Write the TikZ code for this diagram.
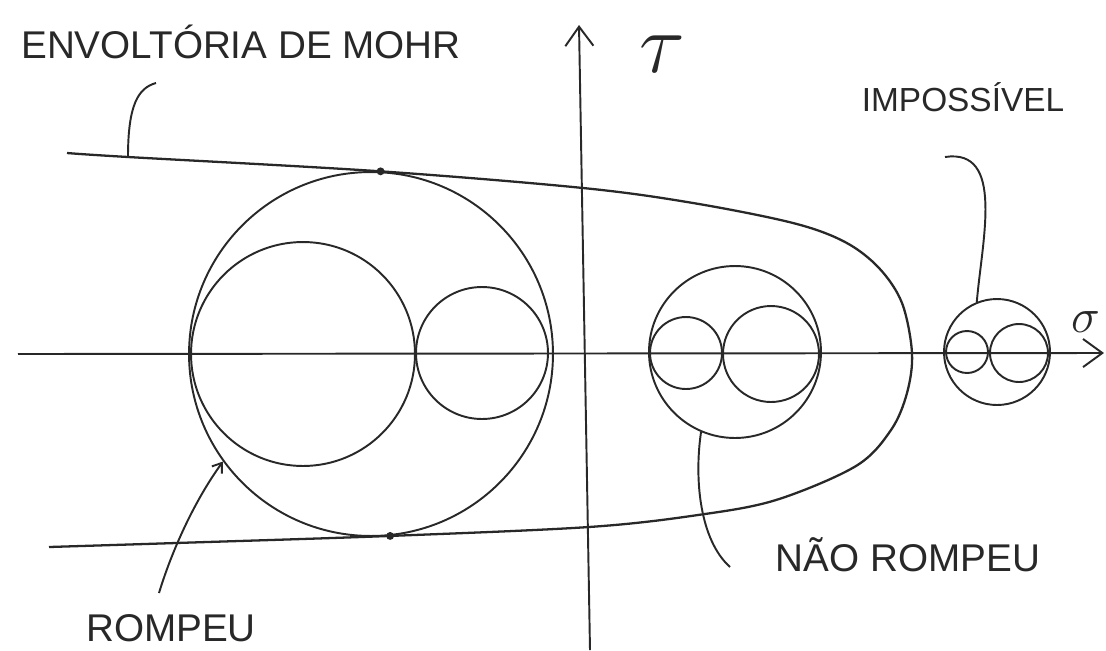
\documentclass[tikz,border=0pt]{standalone}
\usepackage{fontspec}
\setmainfont{Liberation Sans}
\usepackage{graphicx}
\usepackage{tikz}
\usepackage{xcolor}
\usetikzlibrary{arrows.meta, positioning, calc}
\definecolor{pencil}{RGB}{40,40,40}

\begin{document}
\begin{tikzpicture}[x=0.02cm,y=-0.02cm,
  % circulos de Mohr e envoltoria
  ring/.style={circle,draw=pencil,line width=1.1pt,inner sep=0pt},
  envline/.style={draw=pencil,line width=1.3pt},
  axis/.style={draw=pencil,line width=1.1pt,-{Straight Barb[length=11pt,width=16pt]}},
  lbl/.style={font=\fontsize{22}{24}\selectfont,text=pencil,inner sep=0pt},
  lead/.style={draw=pencil,line width=1.1pt},
  spot/.style={circle,fill=pencil,inner sep=0pt,minimum size=4.5pt}]

  \useasboundingbox (0,0) rectangle (1106,650);

  % eixos
  \coordinate (sl) at (18,354);
  \coordinate (sr) at (1104,353);
  \coordinate (tb) at (590,650);
  \coordinate (tt) at (579,25);
  \draw[axis](sl)--(sr);
  \draw[axis](tb)--(tt);
  \node[text=pencil](tau) at (662,54){\scalebox{2.8}{\LARGE$\tau$}};
  \node[text=pencil,anchor=east](sigma) at (1106,322){\scalebox{1.6}{\LARGE$\sigma$}};

  % circulos
  \node[ring,minimum size=7.28cm](big) at (371,354){};
  \node[ring,minimum size=4.48cm](bigl) at (303,354){};
  \node[ring,minimum size=2.64cm](bigr) at (482,353){};
  \node[ring,minimum size=3.44cm](mout) at (735,352){};
  \node[ring,minimum size=1.44cm](ml) at (686,353){};
  \node[ring,minimum size=1.92cm](mr) at (771,354){};
  \node[ring,minimum size=2.12cm](rout) at (997,352){};
  \node[ring,minimum size=0.84cm](rl) at (967,352){};
  \node[ring,minimum size=1.16cm](rr) at (1019,353){};

  % envoltoria
  \node[spot](ptop) at (big.87){};
  \node[spot](pbot) at (big.-84){};
  \coordinate (envfoot) at (128,157);
  \draw[envline] plot[smooth,tension=0.55] coordinates {(67,153) (envfoot) (ptop)
    (583,188) (693,203) (793,223) (845,242) (879,268) (902,303) (912,353)
    (907,393) (891,430) (856,466) (776,500) (698,515) (589,527) (pbot)
    (176,543) (49,547)};

  % legendas
  \node[lbl](envlabel) at (241,42){ENVOLTÓRIA DE MOHR};
  \coordinate (envhook) at (156,83);
  \draw[lead](envhook) .. controls (138,88) and (128,105) .. (envfoot);

  \node[lbl,font=\fontsize{19}{21}\selectfont](implabel) at (963,97){IMPOSSÍVEL};
  \coordinate (imptail) at (945,157);
  \draw[lead](imptail) .. controls (1005,148) and (982,240) .. (rout.112);

  \node[lbl](naolabel) at (908,555){NÃO ROMPEU};
  \coordinate (naotail) at (730,567);
  \draw[lead](naotail) .. controls (700,540) and (694,480) .. (mout.247);

  \node[lbl](romlabel) at (171,628){ROMPEU};
  \coordinate (romtail) at (159,593);
  \draw[lead,-{Straight Barb[length=5pt,width=7pt]}](romtail) .. controls (172,550) and (195,500) .. (big.216);

\end{tikzpicture}
\end{document}
